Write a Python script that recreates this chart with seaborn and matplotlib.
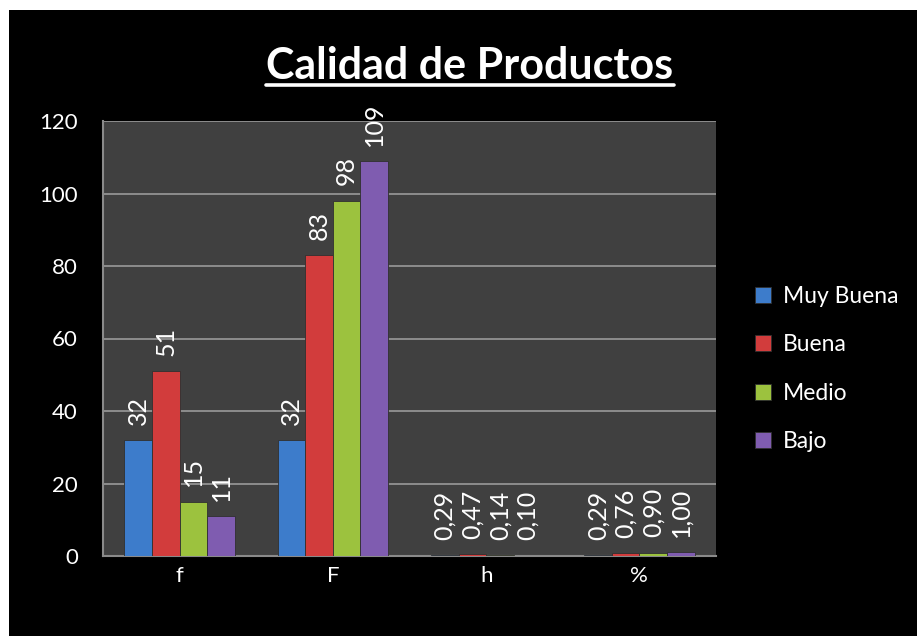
import pandas as pd
import numpy as np
import matplotlib.pyplot as plt
import seaborn as sns
from matplotlib.patches import Rectangle
from matplotlib.lines import Line2D

grupos = ['f', 'F', 'h', '%']
calidades = ['Muy Buena', 'Buena', 'Medio', 'Bajo']
muy_buena = [32, 32, 0.29, 0.29]
buena = [51, 83, 0.47, 0.76]
medio = [15, 98, 0.14, 0.90]
bajo = [11, 109, 0.10, 1.00]

colores = {
    'Muy Buena': '#3D7CCB',
    'Buena': '#D23C3C',
    'Medio': '#9CC23E',
    'Bajo': '#7F5CB0'
}

df = pd.DataFrame({
    'grupo': grupos * 4,
    'calidad': np.repeat(calidades, 4),
    'valor': muy_buena + buena + medio + bajo
})

sns.set_style('dark')
plt.rcParams['font.family'] = ['Lato', 'DejaVu Sans']

fig = plt.figure(figsize=(9.17, 6.36), dpi=100)
fig.patch.set_facecolor('white')
# fondo negro con un pequeño margen blanco arriba e izquierda
fig.patches.append(Rectangle((9 / 917, 0), 1, 1 - 10 / 636, transform=fig.transFigure,
                             facecolor='black', edgecolor='none', zorder=-10))

ax = fig.add_axes([103 / 917, 1 - 556 / 636, (716 - 103) / 917, (556 - 121) / 636])
ax.set_facecolor('#404040')

sns.barplot(data=df, x='grupo', y='valor', hue='calidad', palette=colores,
            width=0.72, gap=0, edgecolor='#303030', linewidth=0.6,
            saturation=1, ax=ax, zorder=3)

ax.set_ylim(0, 120)
ax.set_yticks(range(0, 121, 20))
ax.yaxis.grid(True, color='#9a9a9a', linewidth=1.2, zorder=0)
ax.xaxis.grid(False)
ax.set_xlabel('')
ax.set_ylabel('')
ax.tick_params(axis='both', colors='white', labelsize=16, length=0)
ax.tick_params(axis='y', pad=18)
ax.tick_params(axis='x', pad=7)
for s in ['top', 'right']:
    ax.spines[s].set_visible(False)
for s in ['left', 'bottom']:
    ax.spines[s].set_color('#8a8a8a')
    ax.spines[s].set_linewidth(1.5)

for cont in ax.containers:
    etiquetas = []
    for v in cont.datavalues:
        if v >= 2:
            etiquetas.append(str(int(round(v))))
        else:
            etiquetas.append(f'{v:.2f}'.replace('.', ','))
    ax.bar_label(cont, labels=etiquetas, rotation=90, color='white',
                 fontsize=18, padding=11)

leg = ax.legend(loc='center left', bbox_to_anchor=(1.03, 0.43), frameon=False,
                fontsize=16.5, labelcolor='white', handlelength=0.7, handleheight=0.7,
                labelspacing=1.2, handletextpad=0.5)

titulo = fig.text(470 / 917, 1 - 66 / 636, 'Calidad de Productos', ha='center',
                  va='center', fontsize=31, fontweight='bold', color='white')
fig.canvas.draw()
bb = titulo.get_window_extent().transformed(fig.transFigure.inverted())
fig.lines.append(Line2D([bb.x0, bb.x1], [bb.y0 + 0.002, bb.y0 + 0.002],
                        transform=fig.transFigure, color='white', linewidth=2.6))

plt.savefig('out.png', dpi=100, facecolor=fig.get_facecolor())
